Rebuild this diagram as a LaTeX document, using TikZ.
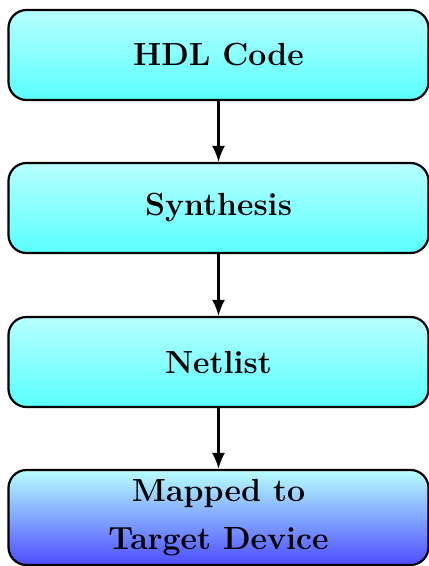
\documentclass[tikz,border=0pt]{standalone}
\usetikzlibrary{arrows.meta}
\begin{document}
\begin{tikzpicture}[x=1pt,y=1pt,
  flowbox/.style={draw=black, line width=2.2pt, rounded corners=18pt,
    minimum width=420pt, minimum height=90pt, inner sep=0pt,
    top color=cyan!28, bottom color=cyan!65,
    font=\fontsize{32}{48}\selectfont\bfseries, align=center},
  lastbox/.style={flowbox, minimum height=95pt, bottom color=blue!70},
  flowarrow/.style={line width=2.2pt, -{Latex[length=16pt,width=13pt]}}]
  \useasboundingbox (0,0) rectangle (429,-566);
  \node[flowbox] (hdl) at (218.5,-55) {HDL Code};
  \node[flowbox] (syn) at (218.5,-208) {Synthesis};
  \node[flowbox] (net) at (218.5,-362) {Netlist};
  \node[lastbox] (map) at (218.5,-517.5) {Mapped to\\Target Device};
  \draw[flowarrow] (hdl) -- (syn);
  \draw[flowarrow] (syn) -- (net);
  \draw[flowarrow] (net) -- (map);
\end{tikzpicture}
\end{document}
